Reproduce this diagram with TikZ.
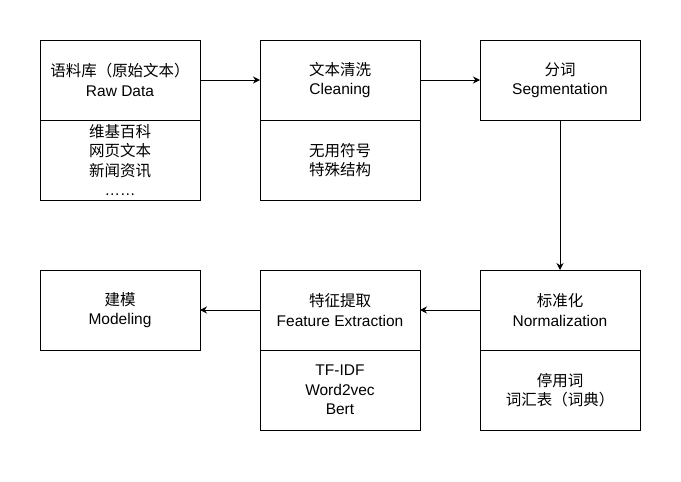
\documentclass[tikz,border=0pt]{standalone}
\usepackage{fontspec}
\setmainfont{Liberation Sans}
\newfontfamily\cjk{Noto Sans CJK SC}
\usetikzlibrary{arrows.meta,positioning}
\tikzset{
  stagebox/.style={draw=black,line width=1pt,minimum width=160pt,minimum height=80pt,
    inner sep=0pt,outer sep=0pt,align=center,font=\fontsize{15.5}{19.5}\selectfont},
  flow/.style={line width=1pt,-{Stealth[length=7pt,width=7pt]}}
}
\begin{document}
\begin{tikzpicture}[x=1pt,y=-1pt]
  \useasboundingbox (0,0) rectangle (681,482);
  % top row
  \node[stagebox] (raw) at (120,80) {{\cjk 语料库（原始文本）}\\Raw Data};
  \node[stagebox,below=0pt of raw] (rawsrc) {{\cjk 维基百科}\\{\cjk 网页文本}\\{\cjk 新闻资讯}\\……};
  \node[stagebox] (clean) at (340,80) {{\cjk 文本清洗}\\Cleaning};
  \node[stagebox,below=0pt of clean] (cleanitem) {{\cjk 无用符号}\\{\cjk 特殊结构}};
  \node[stagebox] (seg) at (560,80) {{\cjk 分词}\\Segmentation};
  % bottom row
  \node[stagebox] (norm) at (560,310) {{\cjk 标准化}\\Normalization};
  \node[stagebox,below=0pt of norm] (normitem) {{\cjk 停用词}\\{\cjk 词汇表（词典）}};
  \node[stagebox] (feat) at (340,310) {{\cjk 特征提取}\\Feature Extraction};
  \node[stagebox,below=0pt of feat] (featitem) {TF-IDF\\Word2vec\\Bert};
  \node[stagebox] (model) at (120,310) {{\cjk 建模}\\Modeling};
  % connectors
  \draw[flow] (raw) -- (clean);
  \draw[flow] (clean) -- (seg);
  \draw[flow] (seg) -- (norm);
  \draw[flow] (norm) -- (feat);
  \draw[flow] (feat) -- (model);
\end{tikzpicture}
\end{document}
